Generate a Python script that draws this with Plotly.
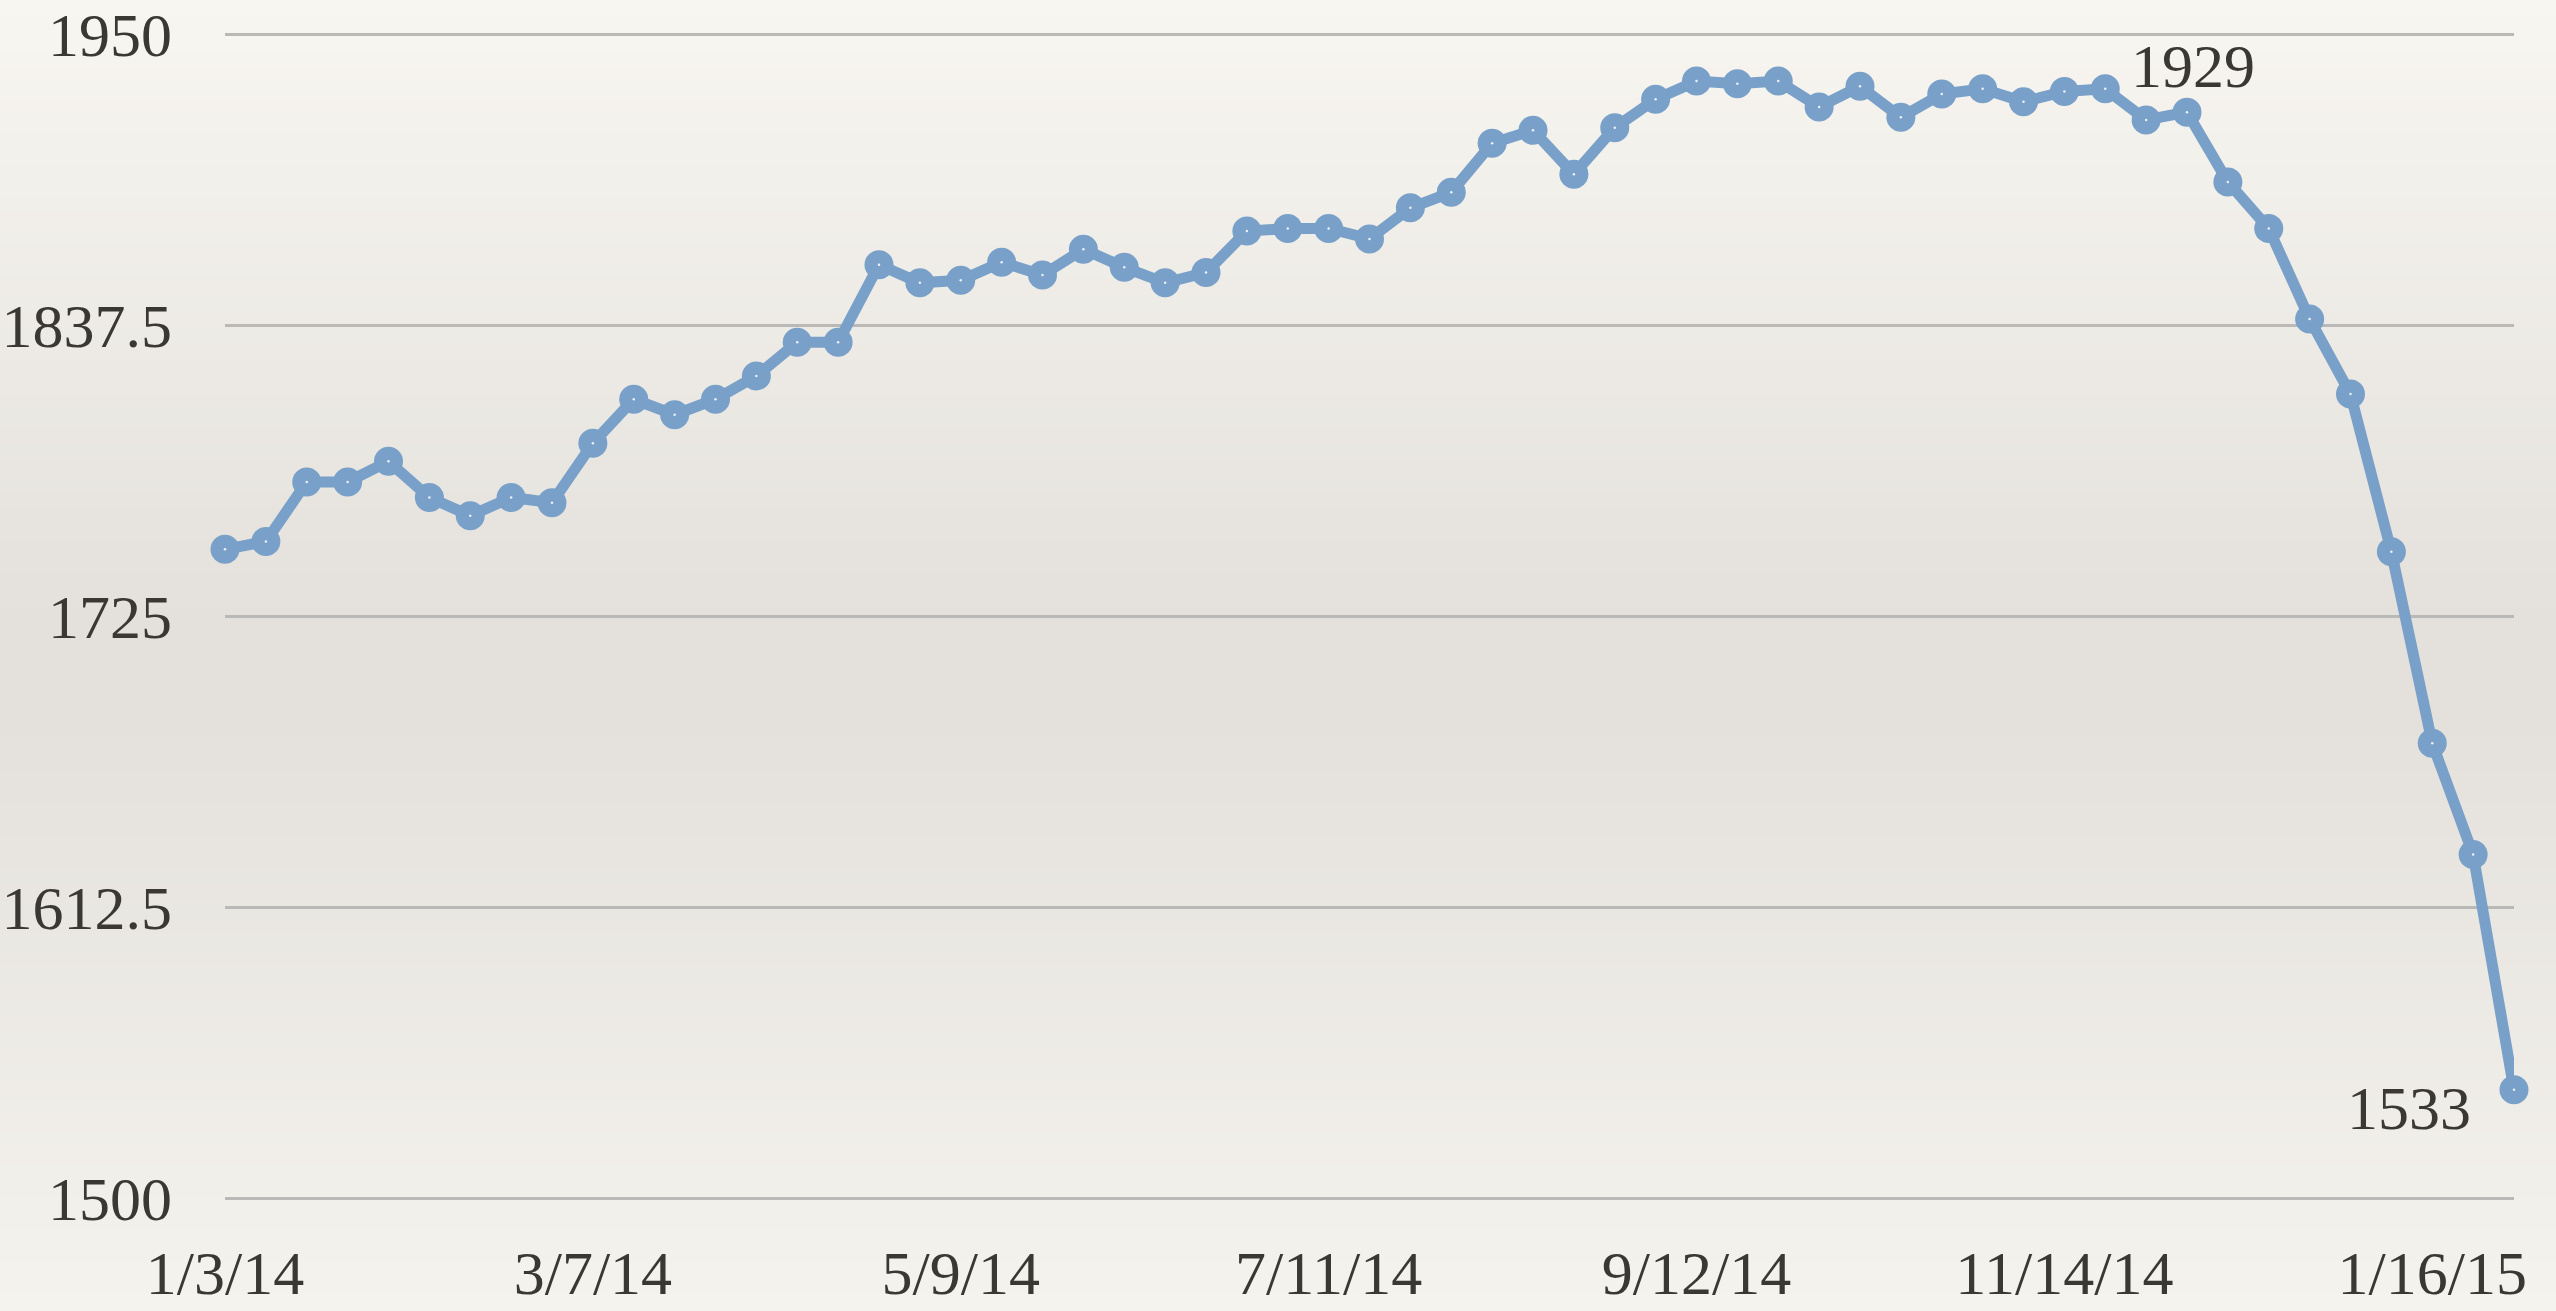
import plotly.graph_objects as go

# ---------------- data ----------------
dates = [
    "2014-01-03", "2014-01-10", "2014-01-17", "2014-01-24", "2014-01-31",
    "2014-02-07", "2014-02-14", "2014-02-21", "2014-02-28", "2014-03-07",
    "2014-03-14", "2014-03-21", "2014-03-28", "2014-04-04", "2014-04-11",
    "2014-04-18", "2014-04-25", "2014-05-02", "2014-05-09", "2014-05-16",
    "2014-05-23", "2014-05-30", "2014-06-06", "2014-06-13", "2014-06-20",
    "2014-06-27", "2014-07-04", "2014-07-11", "2014-07-18", "2014-07-25",
    "2014-08-01", "2014-08-08", "2014-08-15", "2014-08-22", "2014-08-29",
    "2014-09-05", "2014-09-12", "2014-09-19", "2014-09-26", "2014-10-03",
    "2014-10-10", "2014-10-17", "2014-10-24", "2014-10-31", "2014-11-07",
    "2014-11-14", "2014-11-21", "2014-11-28", "2014-12-05", "2014-12-12",
    "2014-12-19", "2014-12-26", "2015-01-02", "2015-01-09", "2015-01-16",
    "2015-01-23", "2015-01-30",
]
values = [
    1751, 1754, 1777, 1777, 1785, 1771, 1764, 1771, 1769, 1792,
    1809, 1803, 1809, 1818, 1831, 1831, 1861,
    1854, 1855, 1862, 1857, 1867, 1860, 1854, 1858, 1874,
    1875, 1875, 1871, 1883, 1889, 1908, 1913, 1896, 1914, 1925,
    1932, 1931, 1932, 1922, 1930, 1918, 1927, 1929, 1924, 1928,
    1929, 1917, 1920, 1893, 1875, 1840, 1811, 1750, 1676, 1633, 1542,
]
x_tick_vals = ["2014-01-03", "2014-03-07", "2014-05-09", "2014-07-11",
               "2014-09-12", "2014-11-14", "2015-01-16"]
x_tick_text = ["1/3/14", "3/7/14", "5/9/14", "7/11/14", "9/12/14", "11/14/14", "1/16/15"]
y_tick_vals = [1500, 1612.5, 1725, 1837.5, 1950]
y_tick_text = ["1500", "1612.5", "1725", "1837.5", "1950"]
annotations_text = ["1929", "1533"]
annotations_x = ["2014-12-06", "2015-01-12"]
annotations_y = [1938, 1535]

# ---------------- style ----------------
W, H = 2556, 1311
ML, MR, MT, MB = 225, 42, 33, 111
FONT = "Liberation Serif"
TXT = "#3a3835"
BLUE = "#78a0c8"

fig = go.Figure()
fig.add_trace(go.Scatter(
    x=dates, y=values, mode="lines+markers",
    line=dict(color=BLUE, width=11),
    marker=dict(size=29, color=BLUE, line=dict(width=0)),
    cliponaxis=False, showlegend=False,
))
fig.add_trace(go.Scatter(
    x=dates, y=values, mode="markers",
    marker=dict(size=2.5, color="rgba(255,255,255,0.85)"),
    cliponaxis=False, showlegend=False, hoverinfo="skip",
))

# parchment-like vertical gradient background
def lerp(c1, c2, t):
    return tuple(int(round(a + (b - a) * t)) for a, b in zip(c1, c2))

stops = [(0.0, (248, 246, 241)), (0.47, (228, 225, 220)),
         (0.55, (228, 225, 220)), (1.0, (245, 243, 238))]
def color_at(f):
    for (f0, c0), (f1, c1) in zip(stops[:-1], stops[1:]):
        if f0 <= f <= f1:
            return lerp(c0, c1, (f - f0) / (f1 - f0) if f1 > f0 else 0)
    return stops[-1][1]

plot_h = H - MT - MB
plot_w = W - ML - MR
nb = 80
shapes = []
for i in range(nb):
    top_px = H * i / nb - (2 if i == 0 else 0)
    bot_px = H * (i + 1) / nb + 1 + (3 if i == nb - 1 else 0)
    f = (i + 0.5) / nb
    r, g, b = color_at(f)
    y1 = 1 - (top_px - MT) / plot_h
    y0 = 1 - (bot_px - MT) / plot_h
    shapes.append(dict(type="rect", xref="paper", yref="paper",
                       x0=-ML / plot_w - 0.05, x1=1 + MR / plot_w + 0.05,
                       y0=y0, y1=y1, fillcolor=f"rgb({r},{g},{b})",
                       line=dict(width=0), layer="below"))

anns = []
for t, ax, ay in zip(annotations_text, annotations_x, annotations_y):
    anns.append(dict(x=ax, y=ay, text=t, showarrow=False, xanchor="center",
                     yanchor="middle", font=dict(family=FONT, size=62, color=TXT)))

fig.update_layout(
    width=W, height=H,
    margin=dict(l=ML, r=MR, t=MT, b=MB, pad=0, autoexpand=False),
    paper_bgcolor="rgb(238,236,231)",
    plot_bgcolor="rgba(0,0,0,0)",
    shapes=shapes,
    annotations=anns,
    showlegend=False,
    font=dict(family=FONT, color=TXT),
    xaxis=dict(
        type="date", range=[dates[0], dates[-1]],
        tickvals=x_tick_vals, ticktext=x_tick_text,
        tickfont=dict(family=FONT, size=62, color=TXT),
        showgrid=False, zeroline=False, showline=False, ticks="",
        ticklabelstandoff=31, automargin=False, ticklabeloverflow="allow",
    ),
    yaxis=dict(
        range=[1499.4, 1950.6], tickvals=y_tick_vals, ticktext=y_tick_text,
        tickfont=dict(family=FONT, size=62, color=TXT),
        showgrid=True, gridcolor="#b9b9b8", gridwidth=2.5,
        zeroline=False, showline=False, ticks="",
        ticklabelstandoff=52, automargin=False, ticklabeloverflow="allow",
    ),
)

fig.write_html(
    "out.html",
    config={"displayModeBar": False},
    post_script="document.body.style.margin='0';document.body.style.padding='0';"
                "document.body.style.overflow='hidden';",
)
